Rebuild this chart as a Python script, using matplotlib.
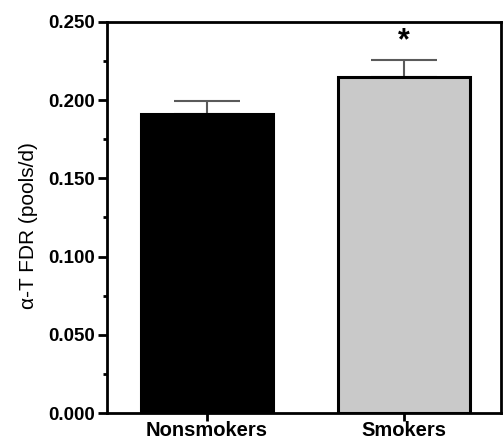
import matplotlib
matplotlib.use("Agg")
import matplotlib.pyplot as plt
from matplotlib.ticker import MultipleLocator, FormatStrFormatter

# group means and SEM for alpha-tocopherol fractional disappearance rate
groups = ["Nonsmokers", "Smokers"]
fdr = [0.191, 0.215]
sem = [0.0085, 0.0105]
colors = ["black", "#c9c9c9"]

plt.rcParams["font.family"] = ["Liberation Sans", "DejaVu Sans"]

fig = plt.figure(figsize=(5.03, 4.41), dpi=100)
ax = fig.add_axes([107 / 503, 28 / 441, 394 / 503, 391 / 441])

x = range(len(groups))
ax.bar(x, fdr, width=0.67, color=colors, edgecolor="black", linewidth=2.2, zorder=2)
ax.errorbar(x, fdr, yerr=[[0, 0], sem], fmt="none", ecolor="#5a5a5a",
            elinewidth=1.5, capsize=24, capthick=1.5, zorder=1)

# significance marker over smokers
ax.text(1, 0.238, "*", ha="center", va="center",
        fontsize=22, fontweight="bold")

ax.set_xlim(-0.505, 1.49)
ax.set_ylim(0, 0.25)
ax.yaxis.set_major_locator(MultipleLocator(0.05))
ax.yaxis.set_minor_locator(MultipleLocator(0.025))
ax.yaxis.set_major_formatter(FormatStrFormatter("%.3f"))
ax.set_xticks(list(x))
ax.set_xticklabels(groups, fontsize=14.5, fontweight="bold")
for lab in ax.get_yticklabels():
    lab.set_fontsize(13.5)
    lab.set_fontweight("bold")

for side in ["left", "bottom", "top", "right"]:
    ax.spines[side].set_linewidth(2)
ax.tick_params(axis="y", which="major", direction="out", length=6.5, width=2, pad=2)
ax.tick_params(axis="x", which="major", direction="out", length=6, width=2, pad=0)
ax.tick_params(axis="y", which="minor", direction="out", length=3, width=2)

ax.set_ylabel("α-T FDR (pools/d)", fontsize=15)
ax.yaxis.set_label_coords(-0.175, 0.48)

fig.savefig("out.png", dpi=100)
